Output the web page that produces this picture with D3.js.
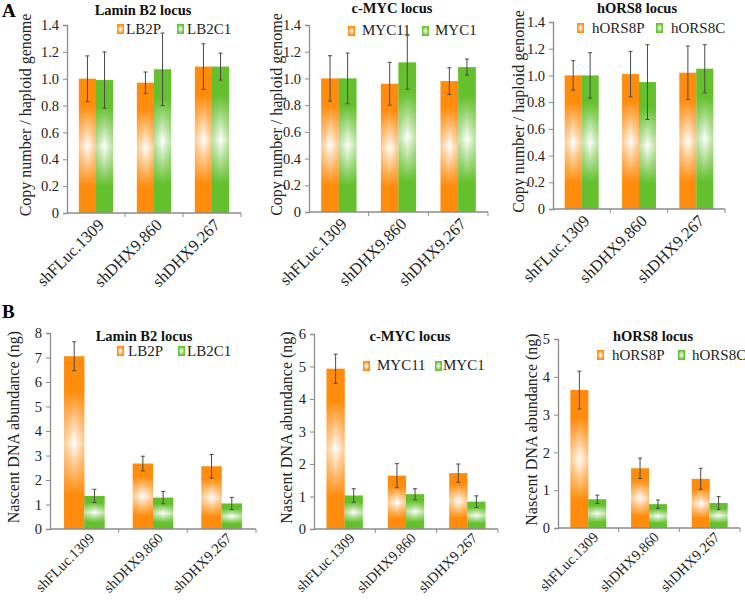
<!DOCTYPE html>
<html><head><meta charset="utf-8">
<script src="https://cdn.jsdelivr.net/npm/d3@7"></script>
<style>
html,body{margin:0;padding:0;background:#fff;}
svg{display:block;font-family:"Liberation Serif","Times New Roman",serif;}
</style></head>
<body><svg id="chart" width="745" height="602"></svg>
<script>
// ---------- data ----------
const categories = ["shFLuc.1309", "shDHX9.860", "shDHX9.267"];

const titlesTop = ["Lamin B2 locus", "c-MYC locus", "hORS8 locus"];
const seriesNames = [["LB2P", "LB2C1"], ["MYC11", "MYC1"], ["hORS8P", "hORS8C"]];

// Panel A: copy number / haploid genome
const lamA_P = [1.00, 0.97, 1.09], lamA_P_err = [0.17, 0.08, 0.17];
const lamA_C = [0.99, 1.07, 1.09], lamA_C_err = [0.21, 0.27, 0.10];
const mycA_P = [1.00, 0.96, 0.98], mycA_P_err = [0.17, 0.16, 0.10];
const mycA_C = [1.00, 1.12, 1.085], mycA_C_err = [0.19, 0.20, 0.06];
const orsA_P = [1.00, 1.01, 1.02], orsA_P_err = [0.11, 0.17, 0.20];
const orsA_C = [1.00, 0.95, 1.05], orsA_C_err = [0.17, 0.28, 0.18];
const ticksA = [0, 0.2, 0.4, 0.6, 0.8, 1.0, 1.2, 1.4];

// Panel B: nascent DNA abundance (ng)
const lamB_P = [7.05, 2.67, 2.56], lamB_P_err = [0.59, 0.30, 0.48];
const lamB_C = [1.35, 1.28, 1.04], lamB_C_err = [0.27, 0.25, 0.25];
const mycB_P = [4.93, 1.64, 1.72], mycB_P_err = [0.45, 0.37, 0.28];
const mycB_C = [1.03, 1.07, 0.84], mycB_C_err = [0.21, 0.17, 0.18];
const orsB_P = [3.65, 1.58, 1.30], orsB_P_err = [0.50, 0.27, 0.28];
const orsB_C = [0.76, 0.63, 0.66], orsB_C_err = [0.11, 0.11, 0.17];
const ticksB1 = [0, 1, 2, 3, 4, 5, 6, 7, 8];
const ticksB2 = [0, 1, 2, 3, 4, 5, 6];
const ticksB3 = [0, 1, 2, 3, 4, 5];

const yTitleA = "Copy number / haploid genome";
const yTitleB = "Nascent DNA abundance (ng)";

// ---------- styles ----------
const ORANGE = "#ff8c0c", GREEN = "#64c02c";
const svg = d3.select("#chart");
const defs = svg.append("defs");
function makeGrad(id, c) {
  const v = defs.append("linearGradient").attr("id", id + "V").attr("x1", 0).attr("y1", 0).attr("x2", 0).attr("y2", 1);
  [[0, 1], [0.2, 1], [0.5, 0], [0.8, 1], [1, 1]].forEach(([o, a]) =>
    v.append("stop").attr("offset", o).attr("stop-color", a ? c : "#ffffff"));
  const h = defs.append("linearGradient").attr("id", id + "H").attr("x1", 0).attr("y1", 0).attr("x2", 1).attr("y2", 0);
  [[0, 0.45], [0.5, 0], [1, 0.45]].forEach(([o, a]) =>
    h.append("stop").attr("offset", o).attr("stop-color", c).attr("stop-opacity", a));
  const r = defs.append("radialGradient").attr("id", id + "R").attr("cx", 0.5).attr("cy", 0.5).attr("r", 0.6);
  [[0, "#ffffff"], [0.8, c], [1, c]].forEach(([o, col]) =>
    r.append("stop").attr("offset", o).attr("stop-color", col));
}
makeGrad("or", ORANGE);
makeGrad("gr", GREEN);
const gradIds = ["or", "gr"];

// ---------- panels ----------
const fmtA = d => d === 0 ? "0" : d3.format(".1f")(d);
const panels = [
  { title: titlesTop[0], names: seriesNames[0], vals: [lamA_P, lamA_C], errs: [lamA_P_err, lamA_C_err], ticks: ticksA, dom: [0, 1.4], fmt: fmtA,
    x: [67, 241], y: [213, 25], ytitle: yTitleA, ytx: 31, titleXY: [143, 15], leg: [[117, 24, 126, 34], [177, 24, 187, 34]], lbl: [16.5, 9, 13] },
  { title: titlesTop[1], names: seriesNames[1], vals: [mycA_P, mycA_C], errs: [mycA_P_err, mycA_C_err], ticks: ticksA, dom: [0, 1.4], fmt: fmtA,
    x: [309, 488], y: [212, 25], ytitle: yTitleA, ytx: 282, titleXY: [392, 13], leg: [[348, 26, 362, 35], [422, 26, 435, 35]], lbl: [16.5, 9, 13] },
  { title: titlesTop[2], names: seriesNames[2], vals: [orsA_P, orsA_C], errs: [orsA_P_err, orsA_C_err], ticks: ticksA, dom: [0, 1.4], fmt: fmtA,
    x: [553, 725], y: [209, 22], ytitle: yTitleA, ytx: 524, titleXY: [637, 13], leg: [[577, 23, 592, 33], [656, 23, 671, 33]], lbl: [16.5, 9, 13] },
  { title: titlesTop[0], names: seriesNames[0], vals: [lamB_P, lamB_C], errs: [lamB_P_err, lamB_C_err], ticks: ticksB1, dom: [0, 8], fmt: d3.format("d"),
    x: [50, 256], y: [529, 333], ytitle: yTitleB, ytx: 19, titleXY: [144, 341], leg: [[117, 346, 128, 356], [178, 346, 187, 356]], lbl: [14.5, 11, 10] },
  { title: titlesTop[1], names: seriesNames[1], vals: [mycB_P, mycB_C], errs: [mycB_P_err, mycB_C_err], ticks: ticksB2, dom: [0, 6], fmt: d3.format("d"),
    x: [314, 498], y: [529, 334], ytitle: yTitleB, ytx: 292, titleXY: [410, 341], leg: [[363, 361, 377, 370], [435, 361, 443, 370]], lbl: [14.5, 11, 10] },
  { title: titlesTop[2], names: seriesNames[2], vals: [orsB_P, orsB_C], errs: [orsB_P_err, orsB_C_err], ticks: ticksB3, dom: [0, 5], fmt: d3.format("d"),
    x: [558, 740], y: [528, 339], ytitle: yTitleB, ytx: 537, titleXY: [653, 341], leg: [[597, 350, 612, 360], [678, 350, 692, 360]], lbl: [14.5, 11, 10] }
];

panels.forEach(p => {
  const g = svg.append("g");
  const x0 = d3.scaleBand().domain(categories).range(p.x).paddingInner(0.41).paddingOuter(0.205);
  const x1 = d3.scaleBand().domain([0, 1]).range([0, x0.bandwidth()]);
  const y = d3.scaleLinear().domain(p.dom).range(p.y);

  // bars
  [0, 1].forEach(s => {
    const bars = g.append("g");
    categories.forEach((c, i) => {
      const bx = x0(c) + x1(s), bw = x1.bandwidth(), by = y(p.vals[s][i]), bh = y(0) - by;
      bars.append("rect").attr("x", bx).attr("y", by).attr("width", bw).attr("height", bh).attr("fill", `url(#${gradIds[s]}V)`);
      bars.append("rect").attr("x", bx).attr("y", by).attr("width", bw).attr("height", bh).attr("fill", `url(#${gradIds[s]}H)`);
    });
  });
  // error bars
  [0, 1].forEach(s => {
    categories.forEach((c, i) => {
      const cx = x0(c) + x1(s) + x1.bandwidth() / 2;
      const v = p.vals[s][i], e = p.errs[s][i];
      const eg = g.append("g").attr("stroke", "#4a4a4a").attr("stroke-width", 1);
      eg.append("line").attr("x1", cx).attr("x2", cx).attr("y1", y(v - e)).attr("y2", y(v + e));
      eg.append("line").attr("x1", cx - 2).attr("x2", cx + 2).attr("y1", y(v - e)).attr("y2", y(v - e));
      eg.append("line").attr("x1", cx - 2).attr("x2", cx + 2).attr("y1", y(v + e)).attr("y2", y(v + e));
    });
  });

  // y axis
  const ya = g.append("g").attr("transform", `translate(${p.x[0]},0)`)
    .call(d3.axisLeft(y).tickValues(p.ticks).tickFormat(p.fmt).tickSize(4).tickPadding(4));
  ya.select(".domain").attr("stroke", "#8c8c8c").attr("stroke-width", 1.3);
  ya.selectAll(".tick line").attr("stroke", "#8c8c8c");
  ya.selectAll("text").attr("font-size", 14.5).attr("fill", "#222").attr("font-family", "Liberation Serif");

  // x axis
  const xa = g.append("g").attr("transform", `translate(0,${p.y[0]})`);
  xa.append("line").attr("x1", p.x[0]).attr("x2", p.x[1]).attr("stroke", "#8c8c8c").attr("stroke-width", 1.6);
  const step = x0.step();
  [1, 2, 3].forEach(k => {
    const bx = p.x[0] + k * step;
    xa.append("line").attr("x1", bx).attr("x2", bx).attr("y1", 0).attr("y2", 4).attr("stroke", "#8c8c8c");
  });
  categories.forEach(c => {
    const cx = x0(c) + x0.bandwidth() / 2 + p.lbl[1];
    xa.append("text").attr("transform", `translate(${cx},${p.lbl[2]}) rotate(-45)`)
      .attr("text-anchor", "end").attr("font-size", p.lbl[0]).attr("fill", "#222").text(c);
  });

  // y title
  g.append("text").attr("transform", `translate(${p.ytx},${(p.y[0] + p.y[1]) / 2 - 4}) rotate(-90)`)
    .attr("text-anchor", "middle").attr("font-size", 16).attr("fill", "#222").text(p.ytitle);

  // chart title
  g.append("text").attr("x", p.titleXY[0]).attr("y", p.titleXY[1]).attr("text-anchor", "middle")
    .attr("font-size", 14.5).attr("font-weight", "bold").attr("fill", "#111").text(p.title);

  // legend
  p.leg.forEach((L, s) => {
    g.append("rect").attr("x", L[0]).attr("y", L[1]).attr("width", 7).attr("height", 10).attr("fill", `url(#${gradIds[s]}R)`);
    g.append("text").attr("x", L[2]).attr("y", L[3]).attr("font-size", 15).attr("fill", "#222").text(p.names[s]);
  });
});

// panel letters
svg.append("text").attr("x", 2).attr("y", 17).attr("font-size", 19).attr("font-weight", "bold").text("A");
svg.append("text").attr("x", 2).attr("y", 318).attr("font-size", 19).attr("font-weight", "bold").text("B");
</script>
</body></html>
